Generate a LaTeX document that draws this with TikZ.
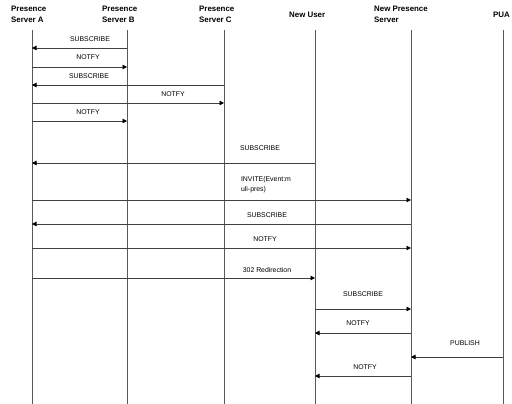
\documentclass[tikz,border=0pt]{standalone}
\usepackage{fontspec}
\setmainfont{Liberation Sans}
\usetikzlibrary{arrows.meta}

\begin{document}
\begin{tikzpicture}[x=1pt, y=-1pt,
  head/.style={font=\fontsize{7.9}{11}\selectfont\bfseries, align=left, anchor=west, inner sep=0pt},
  life/.style={draw=black!65, line width=0.7pt},
  msg/.style={draw=black!75, line width=0.7pt, -{Triangle[length=4.5pt,width=4.5pt,black]}},
  lbl/.style={font=\fontsize{6.9}{10}\selectfont, align=left, inner sep=0pt}]
\useasboundingbox (0,0) rectangle (512,404);

% Headers
\node[head] (hA) at (11,14.5) {Presence\\Server A};
\node[head] (hB) at (102,14.5) {Presence\\Server B};
\node[head] (hC) at (199,14.5) {Presence\\Server C};
\node[head] (hU) at (289,15) {New User};
\node[head] (hN) at (374,14.5) {New Presence\\Server};
\node[head] (hP) at (493,15) {PUA};

% Lifelines
\coordinate (bot) at (0,404);
\foreach \n/\x in {A/32,B/127,C/224,U/315,N/411,P/503} {
  \coordinate (\n) at (\x,30);
  \draw[life] (\n) -- (\n |- bot);
}

% Messages
\foreach \n/\y/\s/\t/\lx/\ly/\txt in {
  1/48/B/A/90/39/SUBSCRIBE,
  2/67/A/B/88/57/NOTFY,
  3/85/C/A/89/76/SUBSCRIBE,
  4/103/A/C/173/94/NOTFY,
  5/121/A/B/88/112/NOTFY,
  6/163/U/A/260/148/SUBSCRIBE,
  7/200/A/N/266/185/{INVITE(Event:m\\uli-pres)},
  8/224/N/A/267/215/SUBSCRIBE,
  9/248/A/N/265/239/NOTFY,
  10/278/A/U/267/270/302 Redirection,
  11/309/U/N/363/294/SUBSCRIBE,
  12/333/N/U/358/323/NOTFY,
  13/357/P/N/465/343/PUBLISH,
  14/376/N/U/365/367/NOTFY} {
  \coordinate (r\n) at (0,\y);
  \draw[msg] (\s |- r\n) -- (\t |- r\n);
  \node[lbl] (l\n) at (\lx,\ly) {\txt};
}
\end{tikzpicture}
\end{document}
